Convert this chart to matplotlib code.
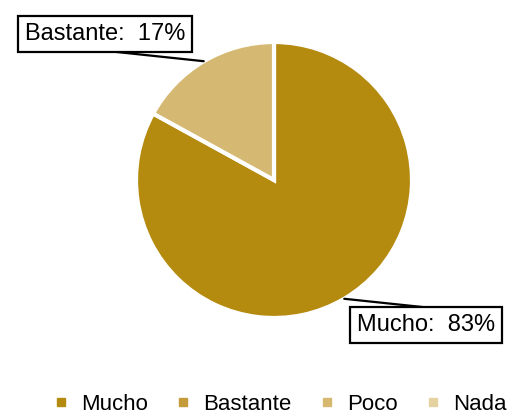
import matplotlib.pyplot as plt
from matplotlib.lines import Line2D
import numpy as np

plt.rcParams['font.family'] = ['Liberation Sans', 'DejaVu Sans']

categories = ['Mucho', 'Bastante', 'Poco', 'Nada']
values = [83, 17, 0, 0]
slice_colors = ['#b58b0f', '#d5b872']
legend_colors = ['#b58b0f', '#c49c3c', '#d6b86e', '#e4d2a0']

fig = plt.figure(figsize=(5.1, 4.15), dpi=100)
# pie centred at about (274, 180) px with radius 138 px
ax = fig.add_axes([136 / 510, (415 - 318) / 415, 276 / 510, 276 / 415])

shown = [(c, v) for c, v in zip(categories, values) if v > 0]
wedges, _ = ax.pie([v for _, v in shown], colors=slice_colors, startangle=90,
                   counterclock=False, radius=1,
                   wedgeprops=dict(edgecolor='white', linewidth=3))
ax.set_xlim(-1, 1)
ax.set_ylim(-1, 1)

box = dict(boxstyle='square,pad=0.28', fc='white', ec='black', lw=1.6)
# label box centre (figure fraction) and where the leader leaves the box
label_pos = {'Bastante': ((105 / 510, 1 - 34 / 415), (0.55, -0.3)),
             'Mucho': ((426 / 510, 1 - 325 / 415), (0.5, 1.3))}
for w, (name, v) in zip(wedges, shown):
    ang = np.deg2rad((w.theta1 + w.theta2) / 2)
    xy = (np.cos(ang), np.sin(ang))
    pos, rel = label_pos[name]
    ax.annotate(f'{name}:  {v}%', xy=xy, xycoords='data',
                xytext=pos, textcoords='figure fraction',
                ha='center', va='center', fontsize=17, bbox=box,
                arrowprops=dict(arrowstyle='-', color='black', lw=1.6,
                                relpos=rel, shrinkA=0, shrinkB=0,
                                patchA=None))

handles = [Line2D([], [], marker='s', linestyle='none', markersize=6,
                  markerfacecolor=c, markeredgecolor=c) for c in legend_colors]
fig.legend(handles, categories, loc='center', bbox_to_anchor=(0.548, 1 - 404 / 415),
           ncol=4, frameon=False, fontsize=16, handletextpad=0.5,
           columnspacing=1.2, handlelength=0.8, borderaxespad=0)

plt.savefig('out.png', dpi=100)
